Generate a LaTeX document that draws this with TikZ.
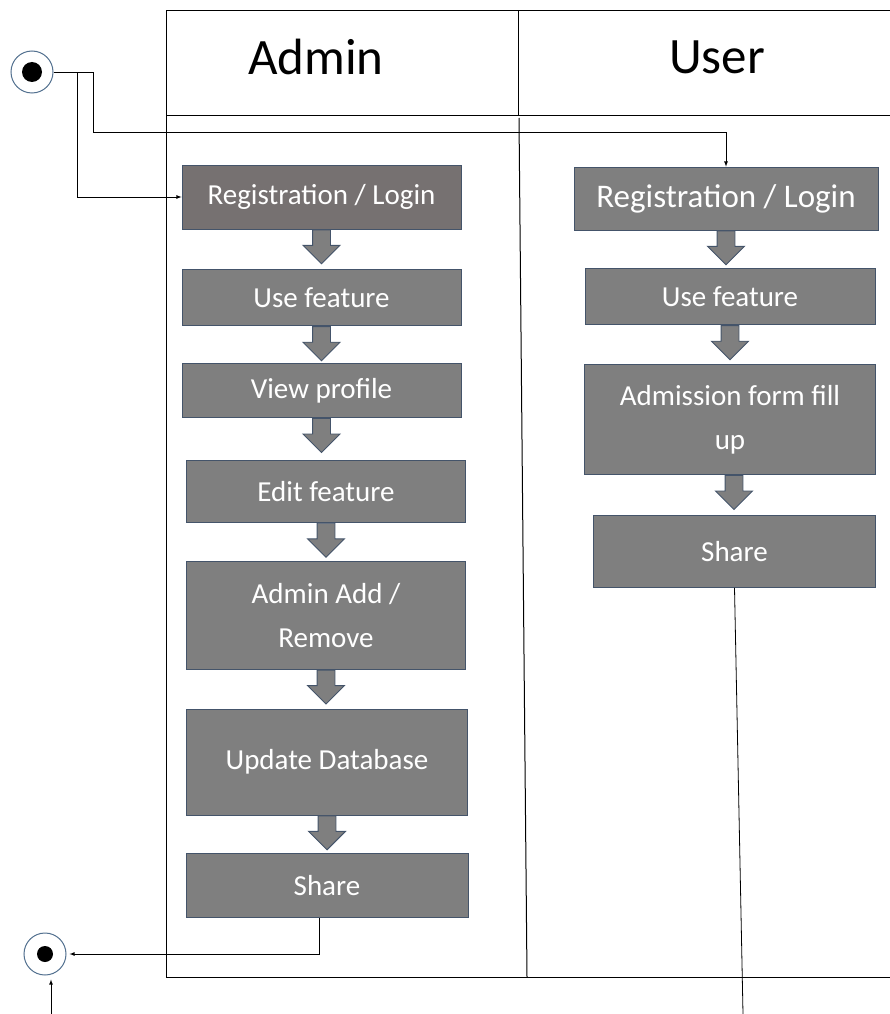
\documentclass[tikz,border=0pt]{standalone}
\usepackage{fontspec}
\setmainfont{Carlito}
\usetikzlibrary{positioning,shapes.arrows}
\definecolor{boxgray}{HTML}{7F7F7F}
\definecolor{boxwarm}{HTML}{767171}
\definecolor{boxedge}{HTML}{44546A}
\definecolor{ringblue}{HTML}{52708F}

\begin{document}
\begin{tikzpicture}[x=1pt,y=-1pt,
		box/.style={rectangle,draw=boxedge,fill=boxgray,text=white,minimum width=279pt,inner sep=0pt,align=center,font=\fontsize{29}{44}\selectfont,line width=0.8pt},
		blockarrow/.style={single arrow,draw=boxedge,fill=boxgray,shape border rotate=270,minimum height=34pt,minimum width=36pt,inner xsep=8.5pt,inner ysep=0pt,single arrow head extend=9.5pt,anchor=tail,line width=0.9pt},
		ringnode/.style={circle,draw=ringblue,fill=white,minimum size=42pt,inner sep=0pt,line width=1pt},
		lane/.style={line width=1pt},
		flow/.style={-latex,line width=0.8pt},
		node distance=39pt]
		\useasboundingbox (0,0) rectangle (890,1014);

		% swimlanes
		\draw[lane] (166,11) -- (890,11);
		\draw[lane] (166,116) -- (890,116);
		\draw[lane] (166,11) -- (166,977);
		\draw[lane] (166,977) -- (890,977);
		\draw[lane] (518,11) -- (518,116);
		\draw[lane] (519,118) -- (527,977);
		\node[font=\fontsize{51}{51}\selectfont]						(admin)	at (316,57)		{Admin};
		\node[font=\fontsize{51}{51}\selectfont]						(user)	at (717,57)		{User};

		% admin lane
		\node[box,fill=boxwarm,minimum height=64pt]					(a1)	at (321.5,197)	{Registration / Login};
		\node[box,below=40pt of a1,minimum height=56pt]				(a2)					{Use feature};
		\node[box,below=37pt of a2,minimum height=54pt]				(a3)					{View profile};
		\node[box,below=42pt of a3,xshift=4.5pt,minimum height=62pt]	(a4)					{Edit feature};
		\node[box,below=38pt of a4,minimum height=108pt]				(a5)					{Admin Add /\\Remove};
		\node[box,below=of a5,xshift=1pt,minimum width=281pt,minimum height=106pt]	(a6)	{Update Database};
		\node[box,below=38pt of a6,minimum width=282pt,minimum height=64pt]	(a7)			{Share};

		% user lane
		\node[box,minimum width=304pt,minimum height=63pt,font=\fontsize{33}{44}\selectfont]	(u1)	at (726,198.5)	{Registration / Login};
		\node[box,below=38pt of u1,xshift=4pt,minimum width=290pt,minimum height=56pt]	(u2)	{Use feature};
		\node[box,below=of u2,minimum width=291pt,minimum height=110pt]	(u3)				{Admission form fill\\up};
		\node[box,below=40pt of u3,xshift=4.5pt,minimum width=282pt,minimum height=72pt]	(u4)	{Share};

		% block arrows
		\node[blockarrow]	(b1)	at (a1.south)	{};
		\node[blockarrow]	(b2)	at (a2.south)	{};
		\node[blockarrow]	(b3)	at (a3.south)	{};
		\node[blockarrow]	(b4)	at (a4.south)	{};
		\node[blockarrow]	(b5)	at (a5.south)	{};
		\node[blockarrow]	(b6)	at (a6.south)	{};
		\node[blockarrow]	(c1)	at (u1.south)	{};
		\node[blockarrow]	(c2)	at (u2.south)	{};
		\node[blockarrow]	(c3)	at ([xshift=4pt]u3.south)	{};

		% start and end
		\node[ringnode]		(start)		at (32,72)		{};
		\fill (start.center) circle (10pt);
		\node[ringnode]		(finish)	at (45,954)		{};
		\fill (finish.center) circle (8pt);
		\coordinate			(tail)		at (51,1014);
		\coordinate			(loose)		at (743,1014);

		\draw[flow] (start.east) -- ++(24,0) |- (a1.west);
		\draw[flow] (start.east) -| ++(40,60) -| (u1.north);
		\draw[flow,shorten >=3pt] ([xshift=-8pt]a7.south) |- (finish.east);
		\draw[flow,shorten >=4pt] (tail) -- (tail |- finish.south);
		\draw[line width=0.8pt] (u4.south) -- (loose);
	\end{tikzpicture}
\end{document}
